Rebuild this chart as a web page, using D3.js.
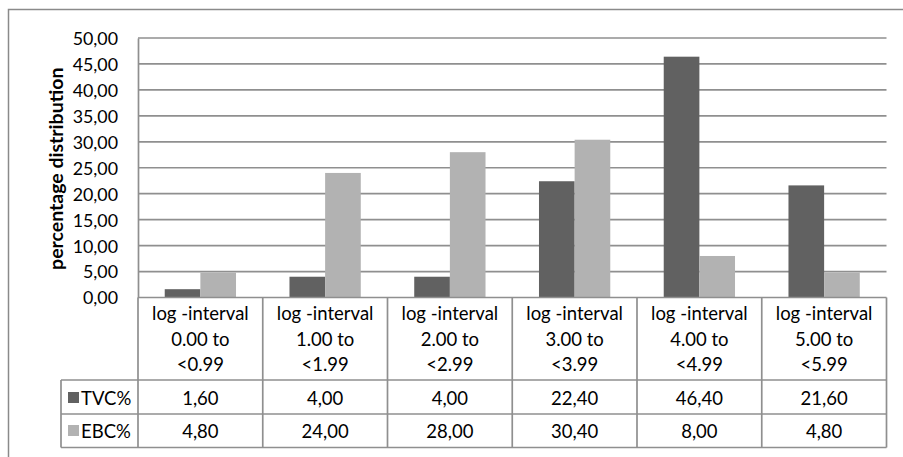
<!DOCTYPE html>
<html>
<head>
<meta charset="utf-8">
<script src="https://cdn.jsdelivr.net/npm/d3@7"></script>
<style>
  html, body { margin: 0; padding: 0; background: #fff; }
  svg { display: block; }
  text { font-family: Lato, "Open Sans", sans-serif; fill: #000; }
</style>
</head>
<body>
<svg id="chart" width="903" height="457"></svg>
<script>
// Category labels (three lines each) and series values
const categories = ["0", "1", "2", "3", "4", "5"];
const categoryLines = [
  ["log -interval", "0.00 to", "<0.99"],
  ["log -interval", "1.00 to", "<1.99"],
  ["log -interval", "2.00 to", "<2.99"],
  ["log -interval", "3.00 to", "<3.99"],
  ["log -interval", "4.00 to", "<4.99"],
  ["log -interval", "5.00 to", "<5.99"]
];
const seriesNames = ["TVC%", "EBC%"];
const tvcValues = [1.6, 4.0, 4.0, 22.4, 46.4, 21.6];
const ebcValues = [4.8, 24.0, 28.0, 30.4, 8.0, 4.8];
const yTicks = [0, 5, 10, 15, 20, 25, 30, 35, 40, 45, 50];
const yTitle = "percentage distribution";

const seriesValues = [tvcValues, ebcValues];
const colors = ["#616161", "#b2b2b2"];
const gridColor = "#8f8f8f";
const fmt = v => d3.format(".2f")(v).replace(".", ",");

const svg = d3.select("#chart");

// outer chart frame (runs off the right and bottom edges)
svg.append("path")
  .attr("d", "M8.5,470 V9.5 H920")
  .attr("fill", "none").attr("stroke", "#8a8a8a").attr("stroke-width", 1.5);

const plot = { left: 138, right: 886.5, top: 38, bottom: 297.5 };

const x = d3.scaleBand().domain(categories).range([plot.left, plot.right]).paddingInner(0).paddingOuter(0);
// clustered bars with a 150% gap width
const bw = x.bandwidth() / 3.5;
const xs = d3.scaleBand().domain(seriesNames).range([x.bandwidth() * 0.75 / 3.5, x.bandwidth() * 0.75 / 3.5 + 2 * bw]);
const y = d3.scaleLinear().domain([0, 50]).range([plot.bottom, plot.top]);

// horizontal gridlines
svg.append("g").selectAll("line").data(yTicks.slice(1)).join("line")
  .attr("x1", plot.left).attr("x2", plot.right)
  .attr("y1", d => y(d)).attr("y2", d => y(d))
  .attr("stroke", gridColor).attr("stroke-width", 1.7);

// y axis with comma decimals
const yAxis = svg.append("g").attr("transform", `translate(${plot.left},0)`)
  .call(d3.axisLeft(y).tickValues(yTicks).tickFormat(fmt).tickSize(0).tickPadding(20));
yAxis.select(".domain").attr("stroke", gridColor).attr("stroke-width", 1.7);
yAxis.selectAll("text").attr("font-size", 17.8).attr("dy", "0.36em")
  .style("font-family", "Lato, sans-serif").attr("fill", "#000");

// bars
seriesNames.forEach((name, si) => {
  svg.append("g").selectAll("rect").data(seriesValues[si]).join("rect")
    .attr("x", (d, i) => x(categories[i]) + xs(name))
    .attr("width", xs.bandwidth())
    .attr("y", d => y(d))
    .attr("height", d => y(0) - y(d))
    .attr("fill", colors[si]);
});

// baseline
svg.append("line").attr("x1", plot.left).attr("x2", plot.right)
  .attr("y1", plot.bottom).attr("y2", plot.bottom)
  .attr("stroke", gridColor).attr("stroke-width", 1.7);

// y title
svg.append("text")
  .attr("transform", `translate(63,${(plot.top + plot.bottom) / 2 + 1}) rotate(-90)`)
  .attr("text-anchor", "middle").attr("font-weight", "bold").attr("font-size", 19.5)
  .text(yTitle);

// data table below the plot
const rowsY = [plot.bottom, 380, 414, 447.5];
const legendLeft = 61;
const tbl = svg.append("g").attr("stroke", gridColor).attr("stroke-width", 1.7).attr("fill", "none");
categories.forEach(c => {
  tbl.append("line").attr("x1", x(c)).attr("x2", x(c)).attr("y1", rowsY[0]).attr("y2", rowsY[3]);
});
tbl.append("line").attr("x1", plot.right).attr("x2", plot.right).attr("y1", rowsY[0]).attr("y2", rowsY[3]);
tbl.append("line").attr("x1", legendLeft).attr("x2", legendLeft).attr("y1", rowsY[1]).attr("y2", rowsY[3]);
[1, 2, 3].forEach(r => {
  tbl.append("line").attr("x1", legendLeft).attr("x2", plot.right).attr("y1", rowsY[r]).attr("y2", rowsY[r]);
});

// header cells
const header = svg.append("g").attr("font-size", 18.5).attr("text-anchor", "middle");
categoryLines.forEach((lines, i) => {
  lines.forEach((t, li) => {
    header.append("text")
      .attr("x", x(categories[i]) + x.bandwidth() / 2)
      .attr("y", 320 + li * 25.5)
      .text(t);
  });
});

// value rows with legend keys
seriesNames.forEach((name, si) => {
  const yb = si === 0 ? 404.5 : 437.5;
  const g = svg.append("g").attr("font-size", 18.5);
  g.append("rect").attr("x", 68).attr("y", yb - 12.5).attr("width", 11).attr("height", 11).attr("fill", colors[si]);
  g.append("text").attr("x", 81).attr("y", yb).text(name);
  g.selectAll("text.v").data(seriesValues[si]).join("text").attr("class", "v")
    .attr("x", (d, i) => x(categories[i]) + x.bandwidth() / 2)
    .attr("y", yb).attr("text-anchor", "middle")
    .text(d => fmt(d));
});
</script>
</body>
</html>
